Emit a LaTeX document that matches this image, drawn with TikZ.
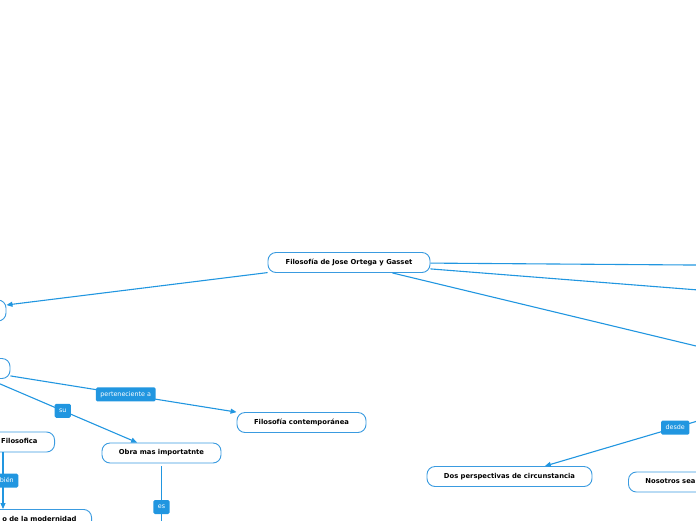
\documentclass[tikz,border=0pt]{standalone}
\usepackage{fontspec}
\setmainfont{DejaVu Sans}
\usetikzlibrary{arrows.meta}
\definecolor{mmblue}{HTML}{2196E0}
\definecolor{mmborder}{HTML}{3A9BE0}
\begin{document}
\begin{tikzpicture}[x=1pt,y=-1pt,
 box/.style={draw=mmborder, line width=0.9pt, fill=white, rounded corners=8pt, minimum height=20pt, inner xsep=16pt, inner ysep=0pt, text height=5pt, text depth=1.4pt, font=\fontsize{6.8}{8}\selectfont\bfseries, text=black},
 lab/.style={fill=mmblue, text=white, rounded corners=1.5pt, minimum height=14pt, inner xsep=4.5pt, inner ysep=0pt, text height=4.8pt, text depth=1.3pt, font=\fontsize{6.4}{7}\selectfont},
 conn/.style={draw=mmblue, line width=1.1pt},
 arr/.style={conn, -{Triangle[length=6pt,width=5pt]}}]
\useasboundingbox (0,0) rectangle (696,520);

\node[box, minimum width=162pt] (root) at (349,262.5) {Filosofía de Jose Ortega y Gasset};
\node[box, minimum width=88pt, minimum height=21pt] (L1) at (-38,310.5) {};
\node[box, minimum width=92pt] (L2) at (-36,368.5) {};
\node[box, minimum width=129pt] (contemp) at (301.5,422.5) {Filosofía contemporánea};
\node[box, minimum width=119pt] (obra) at (161.5,453) {Obra mas importatnte};
\node[box, anchor=east, inner xsep=17pt] (filo) at (55,442) {\hspace*{45pt}Filosofica};
\node[box, anchor=north east, inner xsep=15pt] (mod) at (92,509) {\hspace*{30pt}o de la modernidad};
\node[box, minimum width=165pt] (dos) at (509.5,476.5) {Dos perspectivas de circunstancia};
\node[box, anchor=west, inner xsep=17pt] (noso) at (628,482) {Nosotros sea\hspace*{40pt}};

\coordinate (r1) at (800,265.8);
\coordinate (r2) at (800,298);
\coordinate (r3) at (800,371);
\coordinate (d0) at (760,402.6);
\coordinate (esend) at (161.5,540);
\coordinate (xa) at (3,0);

\draw[arr] (root) -- (L1);
\draw[arr] (root) -- (r1);
\draw[arr] (root) -- (r2);
\draw[arr] (root) -- (r3);
\draw[arr] (L2) -- node[lab, pos=0.51] {perteneciente a} (contemp);
\draw[arr] (L2) -- node[lab, pos=0.5] {su} (obra);
\draw[arr] (filo.south -| xa) -- node[lab, pos=0.5, xshift=-2.5pt] {también} (mod.north -| xa);
\draw[conn, shorten <=3pt] (obra) -- node[lab, pos=0.57] {es} (esend);
\draw[arr] (d0) -- node[lab, pos=0.394] {desde} (dos);
\end{tikzpicture}
\end{document}
